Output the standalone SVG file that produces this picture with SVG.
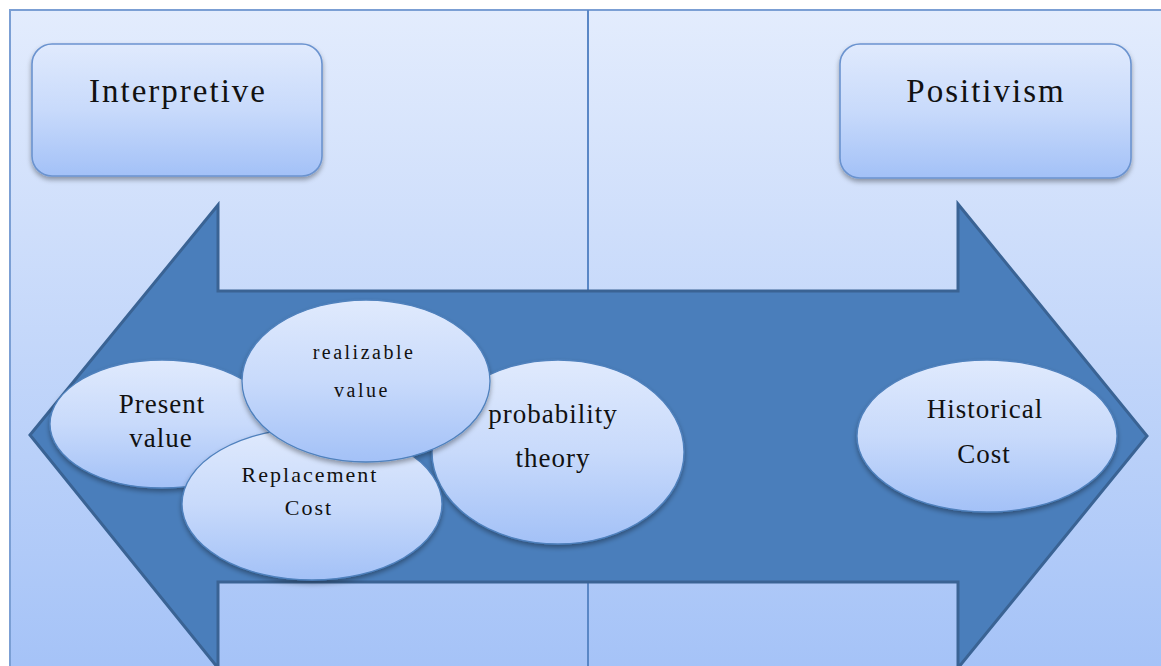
<svg xmlns="http://www.w3.org/2000/svg" width="1161" height="666" viewBox="0 0 1161 666">
  <defs>
    <linearGradient id="bgGrad" x1="0" y1="0" x2="0" y2="1">
      <stop offset="0" stop-color="#e3ecfd"/>
      <stop offset="1" stop-color="#a4c2f7"/>
    </linearGradient>
    <linearGradient id="nodeGrad" x1="0" y1="0" x2="0" y2="1">
      <stop offset="0" stop-color="#e0eafd"/>
      <stop offset="0.5" stop-color="#c8dafb"/>
      <stop offset="1" stop-color="#a3c1f7"/>
    </linearGradient>
    <filter id="shadow" x="-20%" y="-20%" width="140%" height="150%">
      <feDropShadow dx="0" dy="3" stdDeviation="2.5" flood-color="#000" flood-opacity="0.35"/>
    </filter>
    <style>
      .box { fill: url(#nodeGrad); stroke: #6b93cf; stroke-width: 1.6; filter: url(#shadow); }
      .ell { fill: url(#nodeGrad); stroke: #4f81bd; stroke-width: 1.3; filter: url(#shadow); }
      .lbl { font-family: "Liberation Serif", "Times New Roman", serif; fill: #111; text-anchor: middle; }
      .big { font-size: 33px; letter-spacing: 2px; }
      .mid { font-size: 27px; letter-spacing: 1px; }
      .small { font-size: 22px; letter-spacing: 2px; }
      .tiny { font-size: 20px; letter-spacing: 2.5px; }
    </style>
  </defs>

  <g id="background">
    <rect x="10" y="10" width="1160" height="670" fill="url(#bgGrad)" stroke="#7b9fd4" stroke-width="2"/>
    <line x1="588" y1="10" x2="588" y2="666" stroke="#5a87c6" stroke-width="2"/>
  </g>

  <g id="connectors">
    <path d="M30,435 L218,205 L218,291 L958,291 L958,204 L1147,436 L958,668 L958,582 L218,582 L218,668 Z" fill="#4a7ebb" stroke="#3a6394" stroke-width="3" stroke-linejoin="miter"/>
  </g>

  <g id="node-interpretive">
    <rect class="box" x="32" y="44" width="290" height="132" rx="20"/>
    <text class="lbl big" x="178" y="102">Interpretive</text>
  </g>

  <g id="node-positivism">
    <rect class="box" x="840" y="44" width="291" height="134" rx="20"/>
    <text class="lbl big" x="986" y="102">Positivism</text>
  </g>

  <g id="node-probability-theory">
    <ellipse class="ell" cx="558" cy="452" rx="126" ry="92"/>
    <text class="lbl mid" x="553" y="423">probability</text>
    <text class="lbl mid" x="553" y="467">theory</text>
  </g>

  <g id="node-present-value">
    <ellipse class="ell" cx="162" cy="424" rx="112" ry="64"/>
    <text class="lbl mid" x="162" y="413">Present</text>
    <text class="lbl mid" x="161" y="447">value</text>
  </g>

  <g id="node-replacement-cost">
    <ellipse class="ell" cx="312" cy="504" rx="130" ry="76"/>
    <text class="lbl small" x="310" y="482">Replacement</text>
    <text class="lbl small" x="309" y="515">Cost</text>
  </g>

  <g id="node-realizable-value">
    <ellipse class="ell" cx="366" cy="381" rx="124" ry="81"/>
    <text class="lbl tiny" x="364" y="359">realizable</text>
    <text class="lbl tiny" x="362" y="397">value</text>
  </g>

  <g id="node-historical-cost">
    <ellipse class="ell" cx="987" cy="436" rx="130" ry="76"/>
    <text class="lbl mid" x="985" y="418">Historical</text>
    <text class="lbl mid" x="984" y="463">Cost</text>
  </g>
</svg>
